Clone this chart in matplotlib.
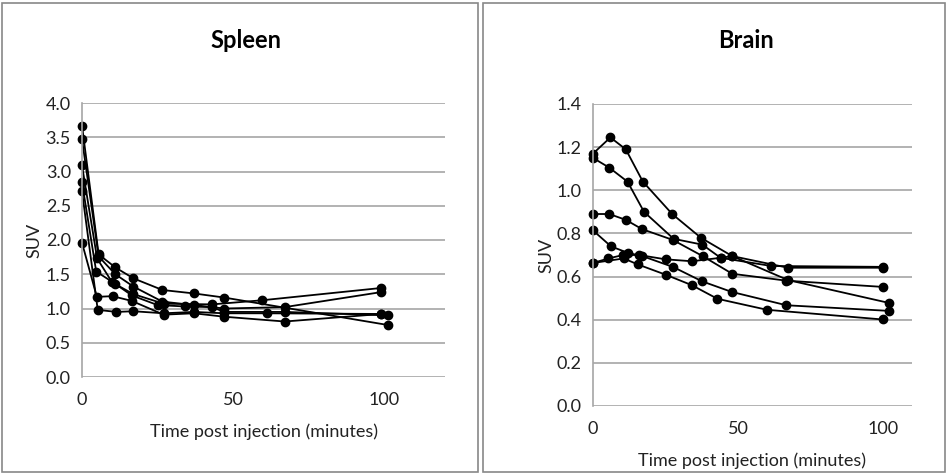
import matplotlib
matplotlib.use("Agg")
import matplotlib.pyplot as plt
from matplotlib.patches import Rectangle

plt.rcParams['font.family'] = ['Lato', 'DejaVu Sans']

# Spleen SUV curves (time in minutes, SUV)
spleen_t = [
    [0, 5.5, 11, 17, 26.6, 37, 47, 101],
    [0, 5.5, 11, 17, 26.6, 37, 47, 67, 99],
    [0, 5, 10, 17, 27, 43, 59.5, 99],
    [0, 4.7, 11, 16.5, 25, 34, 43, 47, 67, 101],
    [0, 5.2, 11.4, 17, 27, 37, 47, 61, 99],
    [0, 4.9, 10.1, 16.5, 27, 37, 47, 67, 99],
]
spleen_v = [
    [3.67, 1.79, 1.60, 1.44, 1.27, 1.22, 1.16, 0.76],
    [3.47, 1.76, 1.50, 1.32, 1.10, 1.05, 1.00, 1.02, 1.24],
    [3.09, 1.73, 1.38, 1.21, 1.07, 1.06, 1.12, 1.30],
    [2.84, 1.54, 1.36, 1.19, 1.05, 1.03, 1.02, 0.95, 0.95, 0.90],
    [2.71, 0.98, 0.95, 0.96, 0.93, 0.95, 0.93, 0.93, 0.92],
    [1.96, 1.17, 1.18, 1.11, 0.91, 0.93, 0.88, 0.81, 0.92],
]

# Brain SUV curves
brain_t = [
    [0, 6, 11.3, 17.2, 27.3, 37.2, 48, 67.2, 102],
    [0, 5.6, 11.9, 17.6, 27.8, 37.7, 44, 61.5, 100],
    [0, 5.6, 11.3, 16.9, 27.5, 37.8, 48, 66.7, 100],
    [0, 6.2, 12, 17, 27.7, 37.6, 47.8, 66.7, 102],
    [0, 5.3, 10.4, 15.9, 25, 34.1, 44, 48, 67.2, 100],
    [0, 10.6, 15.5, 25.2, 34.1, 42.9, 60, 100],
]
brain_v = [
    [1.17, 1.245, 1.19, 1.04, 0.89, 0.78, 0.695, 0.584, 0.478],
    [1.15, 1.105, 1.04, 0.90, 0.775, 0.748, 0.687, 0.649, 0.645],
    [0.89, 0.89, 0.863, 0.82, 0.77, 0.695, 0.613, 0.581, 0.552],
    [0.814, 0.74, 0.71, 0.695, 0.644, 0.578, 0.529, 0.467, 0.441],
    [0.663, 0.684, 0.70, 0.70, 0.68, 0.671, 0.687, 0.695, 0.641, 0.641],
    [0.663, 0.684, 0.656, 0.608, 0.56, 0.497, 0.446, 0.401],
]

W, H = 947, 474
fig = plt.figure(figsize=(W / 100, H / 100), dpi=100)


def px_axes(left, right, top, bottom):
    return fig.add_axes([left / W, 1 - bottom / H, (right - left) / W, (bottom - top) / H])


def style(ax, ts, vs, xmax, ymax, ystep, title, title_xy):
    for t, v in zip(ts, vs):
        ax.plot(t, v, color='black', lw=1.3, marker='o', ms=6, clip_on=False)
    ax.set_xlim(0, xmax)
    ax.set_ylim(0, ymax)
    ax.set_xticks([0, 50, 100])
    n = int(round(ymax / ystep))
    ax.set_yticks([i * ystep for i in range(n + 1)])
    ax.yaxis.set_major_formatter(matplotlib.ticker.FormatStrFormatter('%.1f'))
    ax.grid(axis='y', color='#a6a6a6', lw=1.2)
    ax.set_axisbelow(True)
    for s in ['top', 'right', 'bottom']:
        ax.spines[s].set_visible(False)
    ax.spines['left'].set_color('#a6a6a6')
    ax.spines['left'].set_linewidth(1.2)
    ax.tick_params(axis='y', length=0, labelsize=13, colors='#222222', pad=8)
    ax.tick_params(axis='x', length=0, labelsize=13, colors='#222222', pad=11)
    ax.set_xlabel('Time post injection (minutes)', fontsize=13, color='#222222', labelpad=11)
    ax.set_ylabel('SUV', fontsize=13, color='#222222', labelpad=2)
    fig.text(title_xy[0] / W, 1 - title_xy[1] / H, title, ha='center', va='center',
             fontsize=17, fontweight='bold')


ax1 = px_axes(82, 445, 103, 377)
style(ax1, spleen_t, spleen_v, 120, 4.0, 0.5, 'Spleen', (246, 40))

ax2 = px_axes(593, 912, 104, 406)
style(ax2, brain_t, brain_v, 110, 1.4, 0.2, 'Brain', (746, 40))

# panel frames
for x0, x1 in [(2, 478), (483, 945)]:
    fig.add_artist(Rectangle((x0 / W, 2 / H), (x1 - x0) / W, (H - 5) / H,
                             transform=fig.transFigure, fill=False,
                             edgecolor='#888888', lw=1.2))

fig.savefig('out.png', dpi=100)
